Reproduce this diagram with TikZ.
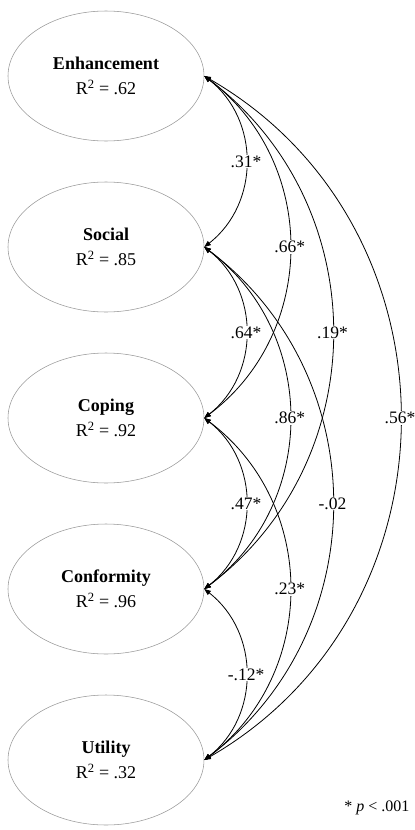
\documentclass[tikz,border=0pt]{standalone}
\usepackage{fontspec}
\setmainfont{Liberation Serif}
\usetikzlibrary{shapes.geometric,arrows.meta}
\begin{document}
\begin{tikzpicture}[x=1pt,y=-1pt,
  factor/.style={ellipse, draw=gray!80, line width=0.55pt, minimum width=196pt, minimum height=130pt, inner sep=0pt, align=center, font=\fontsize{18}{25}\selectfont},
  cov/.style={{Triangle[length=6.5pt,width=5pt]}-{Triangle[length=6.5pt,width=5pt]}, line width=0.8pt},
  lab/.style={fill=white, inner sep=1pt, font=\fontsize{17.5}{20}\selectfont}]
\useasboundingbox (0,0) rectangle (415,830);
\node[factor] (enh) at (106,76) {\textbf{Enhancement}\\R\textsuperscript{2} = .62};
\node[factor] (soc) at (106,247) {\textbf{Social}\\R\textsuperscript{2} = .85};
\node[factor] (cop) at (106,418) {\textbf{Coping}\\R\textsuperscript{2} = .92};
\node[factor] (con) at (106,589) {\textbf{Conformity}\\R\textsuperscript{2} = .96};
\node[factor] (uti) at (106,760) {\textbf{Utility}\\R\textsuperscript{2} = .32};
% span 4
\draw[cov] (enh.east) to[out=-30,in=30,looseness=1.13] node[lab]{.56*} (uti.east);
% span 3
\draw[cov] (enh.east) to[out=-37,in=37,looseness=1.07] node[lab]{.19*} (con.east);
\draw[cov] (soc.east) to[out=-37,in=37,looseness=1.07] node[lab]{-.02} (uti.east);
% span 2
\draw[cov] (enh.east) to[out=-37,in=37,looseness=1.07] node[lab]{.66*} (cop.east);
\draw[cov] (soc.east) to[out=-37,in=37,looseness=1.07] node[lab]{.86*} (con.east);
\draw[cov] (cop.east) to[out=-37,in=37,looseness=1.07] node[lab]{.23*} (uti.east);
% span 1
\draw[cov] (enh.east) to[out=-38,in=38,looseness=1.06] node[lab]{.31*} (soc.east);
\draw[cov] (soc.east) to[out=-38,in=38,looseness=1.06] node[lab]{.64*} (cop.east);
\draw[cov] (cop.east) to[out=-38,in=38,looseness=1.06] node[lab]{.47*} (con.east);
\draw[cov] (con.east) to[out=-38,in=38,looseness=1.06] node[lab]{-.12*} (uti.east);
\node[anchor=base east, font=\fontsize{16}{16}\selectfont] (note) at (413,811) {* \textit{p} < .001};
\end{tikzpicture}
\end{document}
